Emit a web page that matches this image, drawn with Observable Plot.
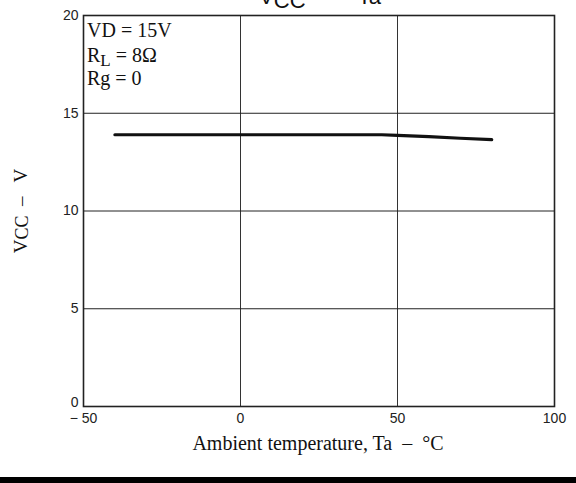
<!DOCTYPE html>
<html>
<head>
<meta charset="utf-8">
<script src="https://cdn.jsdelivr.net/npm/d3@7"></script>
<script src="https://cdn.jsdelivr.net/npm/@observablehq/plot@0.6"></script>
<style>
html, body { margin: 0; padding: 0; background: #fff; }
#chart { width: 576px; height: 483px; overflow: hidden; }
</style>
</head>
<body>
<div id="chart"></div>
<script>
const temperature = [-40, 0, 45, 50, 60, 70, 80];
const vcc = [13.9, 13.9, 13.9, 13.87, 13.8, 13.72, 13.65];
const xTicks = [-50, 0, 50, 100];
const yTicks = [0, 5, 10, 15, 20];
const xGrid = [0, 50];
const yGrid = [5, 10, 15];
const notes = ["VD = 15V", "RL = 8Ω", "Rg = 0"];

const data = temperature.map((t, i) => ({t, v: vcc[i]}));

const W = 576, H = 483;
const chart = Plot.plot({
  width: W,
  height: H,
  marginLeft: 83,
  marginRight: 22,
  marginTop: 15,
  marginBottom: 77,
  style: {fontFamily: "Liberation Sans, Arial, sans-serif", fontSize: "14px", color: "#222", background: "#fff"},
  x: {domain: [-50, 100], ticks: xTicks, tickSize: 0, tickPadding: 7, label: null,
      tickFormat: d => d < 0 ? "− " + Math.abs(d) : String(d)},
  y: {domain: [0, 20], ticks: yTicks, tickSize: 0, tickPadding: 5, label: null},
  marks: [
    Plot.ruleX(xGrid, {stroke: "#333", strokeWidth: 1}),
    Plot.ruleY(yGrid, {stroke: "#222", strokeWidth: 1}),
    Plot.line(data, {x: "t", y: "v", stroke: "#111", strokeWidth: 3.2}),
    Plot.frame({stroke: "#222", strokeWidth: 1.6})
  ]
});
document.getElementById("chart").appendChild(chart);

const svg = d3.select(chart);
// the "0" y tick label sits a little higher in the reference
svg.selectAll("g[aria-label='y-axis tick label'] text")
  .filter(function() { return this.textContent === "0"; })
  .attr("dy", "-0.25em");

const serif = "Liberation Serif, Times New Roman, serif";
const sans = "Liberation Sans, Arial, sans-serif";

// Title (partially clipped at top)
const title = svg.append("text")
  .attr("x", 320).attr("y", 4)
  .attr("text-anchor", "middle")
  .style("white-space", "pre")
  .attr("font-family", sans).attr("font-size", 22).attr("fill", "#111");
title.append("tspan").text("V");
title.append("tspan").attr("dy", 4).text("CC");
title.append("tspan").attr("dy", -4).text("  —   Ta");

// Annotation
const ann = svg.append("g").attr("font-family", serif).attr("font-size", 20).attr("fill", "#111").attr("text-anchor", "start");
ann.append("text").attr("x", 87).attr("y", 37).text(notes[0]);
const rl = ann.append("text").attr("x", 87).attr("y", 62);
rl.append("tspan").text("R");
rl.append("tspan").attr("dy", 4).attr("font-size", 17).text("L");
rl.append("tspan").attr("dy", -4).text(" = 8Ω");
ann.append("text").attr("x", 87).attr("y", 85).text(notes[2]);

// Y label
const yl = svg.append("text")
  .attr("transform", "translate(27,211) rotate(-90)")
  .attr("text-anchor", "middle")
  .style("white-space", "pre")
  .attr("font-family", serif).attr("font-size", 19).attr("fill", "#111");
yl.append("tspan").text("V");
yl.append("tspan").attr("dy", 1).attr("font-size", 18).text("CC");
yl.append("tspan").attr("dy", -1).text("  –   V");

// X label
svg.append("text")
  .attr("x", 318).attr("y", 450)
  .attr("text-anchor", "middle")
  .attr("font-family", serif).attr("font-size", 20).attr("fill", "#111")
  .style("white-space", "pre")
  .text("Ambient temperature, Ta  –  °C");

// Bottom bar
svg.append("rect").attr("x", 0).attr("y", 477).attr("width", W).attr("height", 6).attr("fill", "#000");
</script>
</body>
</html>
